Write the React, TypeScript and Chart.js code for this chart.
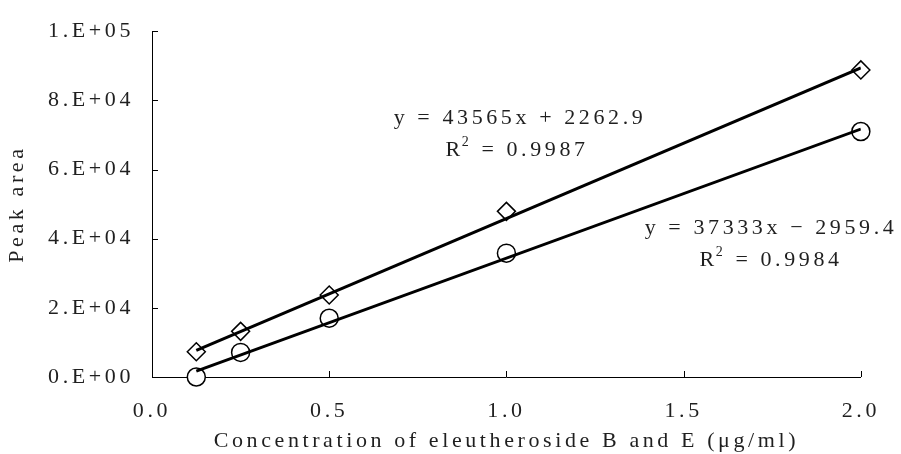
import React, { useEffect, useRef } from "react";
import { Chart, registerables } from "chart.js";

Chart.register(...registerables);

// ---- data ----
const concentrations = [0.125, 0.25, 0.5, 1.0, 2.0];
const peakAreaB = [7300, 13200, 23700, 47900, 88800]; // diamonds
const peakAreaE = [0, 7100, 17000, 35800, 71000]; // circles
const fitB = { slope: 43565, intercept: 2262.9, r2: "0.9987", label: "y = 43565x + 2262.9" };
const fitE = { slope: 37333, intercept: -2959.4, r2: "0.9984", label: "y = 37333x − 2959.4" };
const xTickValues = [0, 0.5, 1.0, 1.5, 2.0];
const xTickLabels = ["0.0", "0.5", "1.0", "1.5", "2.0"];
const yTickValues = [0, 20000, 40000, 60000, 80000, 100000];
const yTickLabels = ["0.E+00", "2.E+04", "4.E+04", "6.E+04", "8.E+04", "1.E+05"];
const xTitle = "Concentration of eleutheroside B and E (μg/ml)";
const yTitle = "Peak area";

const FONT = "'Liberation Serif', 'Times New Roman', serif";
const SIZE = 22;
const SPACING = "3.6px";
const TEXT_COLOR = "#1f1f1f";

const fitLine = (fit: { slope: number; intercept: number }) => {
  const x0 = concentrations[0];
  const x1 = concentrations[concentrations.length - 1];
  return [
    { x: x0, y: fit.slope * x0 + fit.intercept },
    { x: x1, y: fit.slope * x1 + fit.intercept },
  ];
};

const spacingPlugin = {
  id: "spacing",
  beforeLayout(chart: any) {
    chart.ctx.letterSpacing = SPACING;
  },
  beforeDraw(chart: any) {
    chart.ctx.letterSpacing = SPACING;
  },
};

const inwardTicks = {
  id: "inwardTicks",
  beforeDatasetsDraw(chart: any) {
    const { ctx, chartArea, scales } = chart;
    const { left, bottom } = chartArea;
    ctx.save();
    ctx.strokeStyle = "#000";
    ctx.lineWidth = 1;
    ctx.beginPath();
    xTickValues.forEach((v) => {
      if (v === 0) return;
      const px = Math.round(scales.x.getPixelForValue(v)) + 0.5;
      ctx.moveTo(px, bottom);
      ctx.lineTo(px, bottom - 6);
    });
    yTickValues.forEach((v) => {
      if (v === 0) return;
      const py = Math.round(scales.y.getPixelForValue(v)) + 0.5;
      ctx.moveTo(left, py);
      ctx.lineTo(left + 6, py);
    });
    ctx.stroke();
    ctx.restore();
  },
};

const drawR2 = (ctx: CanvasRenderingContext2D, cx: number, cy: number, value: string) => {
  const main = "R";
  const rest = " = " + value;
  ctx.font = `${SIZE}px ${FONT}`;
  const wR = ctx.measureText(main).width;
  const wRest = ctx.measureText(rest).width;
  ctx.font = `14px ${FONT}`;
  const w2 = ctx.measureText("2").width;
  const total = wR + w2 + wRest;
  let x = cx - total / 2;
  ctx.textAlign = "left";
  ctx.font = `${SIZE}px ${FONT}`;
  ctx.fillText(main, x, cy);
  x += wR - 2;
  ctx.font = `14px ${FONT}`;
  ctx.fillText("2", x, cy - 8);
  x += w2;
  ctx.font = `${SIZE}px ${FONT}`;
  ctx.fillText(rest, x, cy);
};

const equations = {
  id: "equations",
  afterDatasetsDraw(chart: any) {
    const { ctx } = chart;
    ctx.save();
    ctx.letterSpacing = SPACING;
    ctx.fillStyle = TEXT_COLOR;
    ctx.textBaseline = "middle";
    ctx.textAlign = "center";
    ctx.font = `${SIZE}px ${FONT}`;
    ctx.fillText(fitB.label, 520, 118);
    drawR2(ctx, 518, 150, fitB.r2);
    ctx.textAlign = "center";
    ctx.font = `${SIZE}px ${FONT}`;
    ctx.fillText(fitE.label, 771, 228);
    drawR2(ctx, 772, 260, fitE.r2);
    ctx.restore();
  },
};

export default function App() {
  const ref = useRef<HTMLCanvasElement | null>(null);
  useEffect(() => {
    if (!ref.current) return;
    const chart = new Chart(ref.current, {
      type: "scatter",
      data: {
        datasets: [
          {
            label: "fitB",
            type: "line",
            data: fitLine(fitB),
            borderColor: "#000",
            borderWidth: 3,
            pointRadius: 0,
            fill: false,
            order: 0,
          } as any,
          {
            label: "fitE",
            type: "line",
            data: fitLine(fitE),
            borderColor: "#000",
            borderWidth: 3,
            pointRadius: 0,
            fill: false,
            order: 0,
          } as any,
          {
            label: "B",
            data: concentrations.map((x, i) => ({ x, y: peakAreaB[i] })),
            pointStyle: "rectRot",
            pointRadius: 9,
            backgroundColor: "#fff",
            borderColor: "#000",
            borderWidth: 1.5,
            clip: false,
            order: 1,
          } as any,
          {
            label: "E",
            data: concentrations.map((x, i) => ({ x, y: peakAreaE[i] })),
            pointStyle: "circle",
            pointRadius: 9,
            backgroundColor: "#fff",
            borderColor: "#000",
            borderWidth: 1.5,
            clip: false,
            order: 1,
          } as any,
        ],
      },
      options: {
        animation: false,
        responsive: false,
        devicePixelRatio: 1,
        layout: { padding: { top: 22, right: 39, left: 0, bottom: 0 } },
        plugins: {
          legend: { display: false },
          tooltip: { enabled: false },
        },
        scales: {
          x: {
            type: "linear",
            min: 0,
            max: 2,
            afterBuildTicks: (s: any) => {
              s.ticks = xTickValues.map((v) => ({ value: v }));
            },
            afterFit: (s: any) => {
              s.height = 77;
            },
            ticks: {
              padding: 21,
              color: TEXT_COLOR,
              font: { family: FONT, size: SIZE },
              maxRotation: 0,
              callback: (v: any) => xTickLabels[xTickValues.indexOf(Number(v))] ?? "",
            },
            grid: { display: true, drawOnChartArea: false, drawTicks: false },
            border: { display: true, color: "#000", width: 1 },
            title: {
              display: true,
              text: xTitle,
              color: TEXT_COLOR,
              font: { family: FONT, size: SIZE },
              padding: { top: 0, bottom: 0 },
            },
          },
          y: {
            type: "linear",
            min: 0,
            max: 100000,
            afterBuildTicks: (s: any) => {
              s.ticks = yTickValues.map((v) => ({ value: v }));
            },
            afterFit: (s: any) => {
              s.width = 152;
            },
            ticks: {
              padding: 18,
              color: TEXT_COLOR,
              font: { family: FONT, size: SIZE },
              callback: (v: any) => yTickLabels[yTickValues.indexOf(Number(v))] ?? "",
            },
            grid: { display: true, drawOnChartArea: false, drawTicks: false },
            border: { display: true, color: "#000", width: 1 },
            title: {
              display: true,
              text: yTitle,
              color: TEXT_COLOR,
              font: { family: FONT, size: SIZE },
              padding: { top: 4, bottom: 0 },
            },
          },
        },
      },
      plugins: [spacingPlugin, inwardTicks, equations],
    } as any);
    return () => chart.destroy();
  }, []);

  return (
    <div style={{ position: "fixed", left: 0, top: 0, width: 901, height: 454, background: "#fff" }}>
      <canvas ref={ref} width={901} height={454} style={{ display: "block" }} />
    </div>
  );
}
